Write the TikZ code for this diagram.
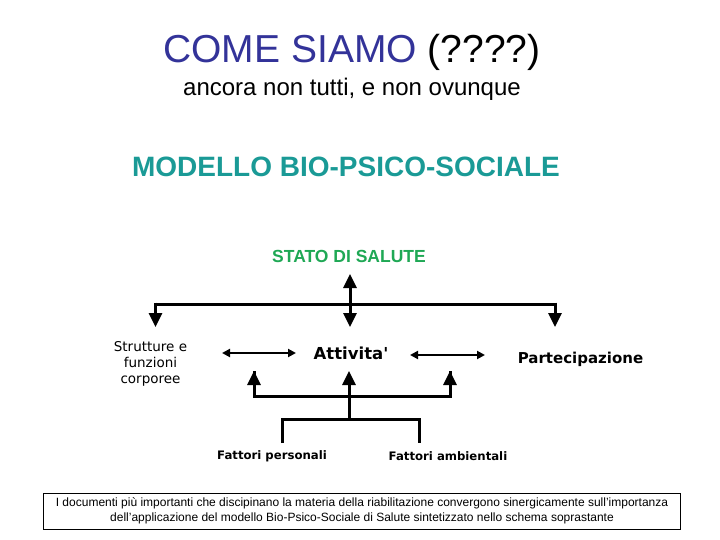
\documentclass[tikz,border=0pt]{standalone}
\usepackage{fontspec}
\setmainfont{Liberation Sans}
\newfontfamily\dvs{DejaVu Sans}
\usetikzlibrary{arrows.meta}
\definecolor{titleblue}{HTML}{333399}
\definecolor{tealtxt}{HTML}{1A9A96}
\definecolor{greentxt}{HTML}{1FA855}
\begin{document}
\begin{tikzpicture}[x=1pt,y=-1pt,
  txt/.style={inner sep=0pt, anchor=base},
  bigarrow/.style={line width=3pt, -{Triangle[width=13pt,length=14pt]}},
  bigboth/.style={line width=3pt, {Triangle[width=13pt,length=14pt]}-{Triangle[width=13pt,length=14pt]}},
  smallboth/.style={line width=2pt, {Triangle[width=8pt,length=8pt]}-{Triangle[width=8pt,length=8pt]}},
  barline/.style={line width=3pt}]
\useasboundingbox (0,0) rectangle (720,540);
% titles
\node[txt, font=\fontsize{39}{44}\selectfont] (title) at (352,63) {\textcolor{titleblue}{COME SIAMO} (????)};
\node[txt, font=\fontsize{24}{28}\selectfont] (sub) at (352,96) {ancora non tutti, e non ovunque};
\node[txt, font=\bfseries\fontsize{28}{32}\selectfont, text=tealtxt] (model) at (346,177) {MODELLO BIO-PSICO-SOCIALE};
\node[txt, font=\bfseries\fontsize{17.5}{20}\selectfont, text=greentxt] (stato) at (349,262) {STATO DI SALUTE};
% main nodes
\node[txt, font=\dvs\fontsize{13.5}{16}\selectfont, align=center] (strut) at (150.5,383) {Strutture e\\funzioni\\corporee};
\node[txt, font=\dvs\bfseries\fontsize{16.5}{20}\selectfont] (att) at (351,359) {Attivita'};
\node[txt, font=\dvs\bfseries\fontsize{15}{18}\selectfont] (part) at (580.5,363) {Partecipazione};
\node[txt, font=\dvs\bfseries\fontsize{11.7}{14}\selectfont] (fp) at (272,459) {Fattori personali};
\node[txt, font=\dvs\bfseries\fontsize{11.7}{14}\selectfont] (fa) at (448,460) {Fattori ambientali};
% junction coordinates
\coordinate (ctop) at (350,274);
\coordinate (cbot) at (350,327);
\coordinate (hl) at (155.5,304);
\coordinate (hr) at (555,304);
\coordinate (dl) at (155.5,327);
\coordinate (dr) at (555,327);
\coordinate (s1a) at (222,353);
\coordinate (s1b) at (296,353);
\coordinate (s2a) at (410,355);
\coordinate (s2b) at (485,355);
\coordinate (ul) at (254,396);
\coordinate (um) at (349,396);
\coordinate (ur) at (450,396);
\coordinate (ult) at (254,371);
\coordinate (umt) at (349,371);
\coordinate (urt) at (450,371);
\coordinate (jm) at (349,419);
\coordinate (jl) at (282,419);
\coordinate (jr) at (419,419);
\coordinate (jlb) at (282,443);
\coordinate (jrb) at (419,443);
% top connectors
\draw[bigboth] (ctop) -- (cbot);
\draw[barline, line cap=butt] (hl) -- (hr);
\draw[bigarrow] ([yshift=1.5pt]hl) -- (dl);
\draw[bigarrow] ([yshift=1.5pt]hr) -- (dr);
% horizontal double arrows
\draw[smallboth] (s1a) -- (s1b);
\draw[smallboth] (s2a) -- (s2b);
% bottom connectors
\draw[barline, line join=miter] (ult) -- (ul) -- (ur) -- (urt);
\draw[bigarrow] ([yshift=1.5pt]ul) -- (ult);
\draw[bigarrow] ([yshift=1.5pt]ur) -- (urt);
\draw[bigarrow] (jm) -- (umt);
\draw[barline, line join=miter] (jlb) -- (jl) -- (jr) -- (jrb);
% bottom box
\node[draw, line width=1pt, minimum width=637pt, minimum height=36pt, inner sep=0pt, anchor=north west] (box) at (43,493) {};
\node[inner sep=0pt, align=center, font=\fontsize{12}{15}\selectfont, anchor=base] (boxtxt) at (362,521) {I documenti più importanti che discipinano la materia della riabilitazione convergono sinergicamente sull'importanza\\dell'applicazione del modello Bio-Psico-Sociale di Salute sintetizzato nello schema soprastante};
\end{tikzpicture}
\end{document}
